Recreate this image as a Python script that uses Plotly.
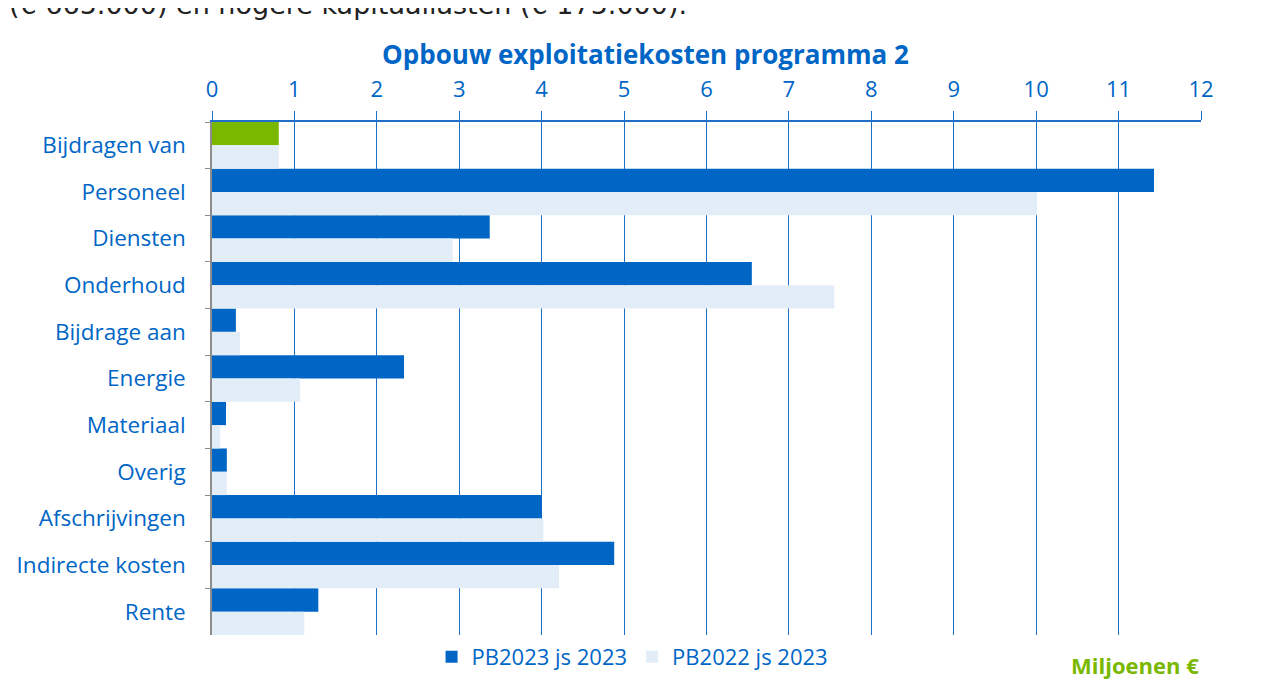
import plotly.graph_objects as go

categories = [
    "Bijdragen van", "Personeel", "Diensten", "Onderhoud", "Bijdrage aan",
    "Energie", "Materiaal", "Overig", "Afschrijvingen", "Indirecte kosten", "Rente",
]
pb2023 = [0.81, 11.43, 3.37, 6.55, 0.29, 2.33, 0.17, 0.18, 4.00, 4.88, 1.29]
pb2022 = [0.81, 10.01, 2.92, 7.55, 0.34, 1.07, 0.10, 0.18, 4.02, 4.21, 1.12]
x_ticks = list(range(0, 13))

BLUE = "#0066C6"
LIGHT = "#E3EDF8"
GREEN = "#7AB800"
GRID = "#1F6FC9"
FONT = "Open Sans, sans-serif"

fig = go.Figure()
# bars drawn with explicit offsets so the legend swatch can be a plain blue one
fig.add_trace(go.Bar(
    y=categories, x=pb2023, orientation="h", name="PB2023 js 2023",
    marker=dict(color=[GREEN] + [BLUE] * (len(categories) - 1), line=dict(width=0)),
    offset=-0.5, width=0.5, showlegend=False,
))
fig.add_trace(go.Bar(
    y=[None], x=[None], orientation="h", name="PB2023 js 2023",
    marker=dict(color=BLUE, line=dict(width=0)), showlegend=True,
))
fig.add_trace(go.Bar(
    y=categories, x=pb2022, orientation="h", name="PB2022 js 2023",
    marker=dict(color=LIGHT, line=dict(width=0)),
    offset=0, width=0.5,
))

fig.update_layout(
    width=1275, height=691,
    margin=dict(l=204, r=82, t=114, b=64),
    plot_bgcolor="white", paper_bgcolor="white",
    barmode="overlay",
    font=dict(family=FONT, color=BLUE, size=20),
    title=dict(text="<b>Opbouw exploitatiekosten programma 2</b>",
               x=0.5, xanchor="center", y=0.932, yanchor="middle",
               font=dict(size=26, color=BLUE, family=FONT)),
    legend=dict(orientation="h", x=0.222, xanchor="left", y=-0.002, yanchor="top",
                font=dict(size=22, color=BLUE), itemwidth=30,
                traceorder="normal"),
    showlegend=True,
)
fig.update_xaxes(
    side="top", range=[0, 12], tickvals=x_ticks,
    showgrid=True, gridcolor=GRID, gridwidth=1,
    showline=True, linecolor=GRID, linewidth=1.5,
    ticks="outside", ticklen=9, tickcolor=GRID, ticklabelstandoff=5,
    tickfont=dict(size=22, color=BLUE), zeroline=False,
)
fig.update_yaxes(
    autorange="reversed", showline=True, linecolor="#8C8C8C", linewidth=1.5,
    ticks="outside", tickson="boundaries", ticklen=5, tickcolor="#8C8C8C",
    ticklabelstandoff=20, automargin=False,
    tickfont=dict(size=22.5, color=BLUE), showgrid=False,
)

fig.add_annotation(
    text="(€ 665.000) en hogere kapitaallasten (€ 175.000).",
    xref="paper", yref="paper", x=-0.207, y=1.195, xanchor="left", yanchor="bottom",
    showarrow=False, font=dict(family="DejaVu Sans", size=27, color="#222222"),
)
fig.add_annotation(
    text="<b>Miljoenen €</b>",
    xref="paper", yref="paper", x=1.0, y=-0.058, xanchor="right", yanchor="middle",
    showarrow=False, font=dict(family=FONT, size=22, color=GREEN),
)

fig.write_html("out.html")
